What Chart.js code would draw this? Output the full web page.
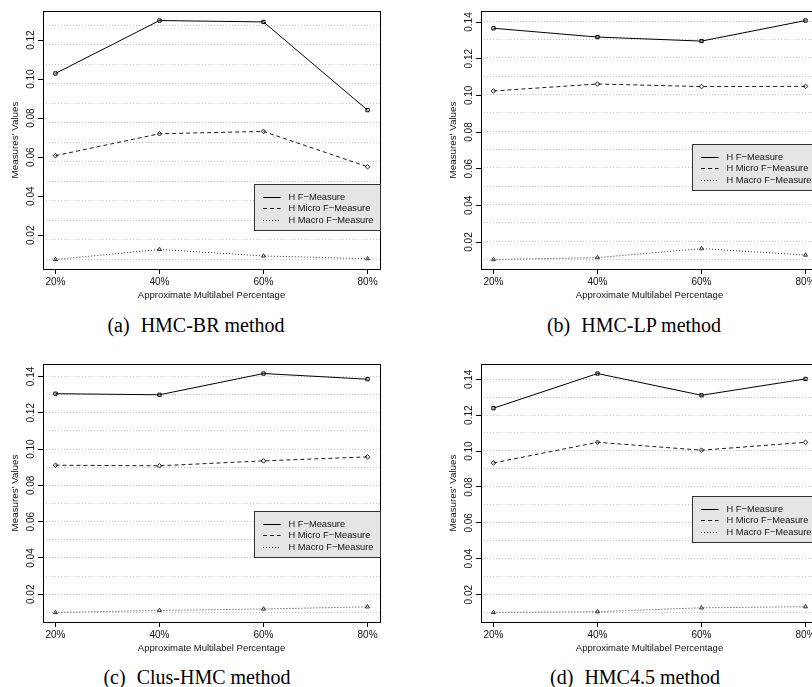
<!DOCTYPE html>
<html>
<head>
<meta charset="utf-8">
<title>Hierarchical F-Measures by multilabel percentage</title>
<script src="https://cdn.jsdelivr.net/npm/chart.js@4.4.0/dist/chart.umd.min.js"></script>
<style>
  html, body { margin: 0; padding: 0; background: #fff; }
  body { width: 812px; height: 687px; overflow: hidden; position: relative; }
  .panel { position: absolute; width: 400px; height: 310px; }
  .caption {
    position: absolute; width: 400px; text-align: center;
    font-family: "Liberation Serif", "Times New Roman", serif;
    font-size: 20px; line-height: 24px; color: #000; white-space: nowrap;
  }
  .caption .tag { margin-right: 6px; }
</style>
</head>
<body>
<div class="panel" style="left:0;top:0"><canvas id="chartA" width="400" height="310"></canvas></div>
<div class="panel" style="left:438px;top:0"><canvas id="chartB" width="400" height="310"></canvas></div>
<div class="panel" style="left:0;top:353px"><canvas id="chartC" width="400" height="310"></canvas></div>
<div class="panel" style="left:438px;top:353px"><canvas id="chartD" width="400" height="310"></canvas></div>

<div class="caption" style="left:-4px;top:313px"><span class="tag">(a)</span> HMC-BR method</div>
<div class="caption" style="left:434px;top:313px"><span class="tag">(b)</span> HMC-LP method</div>
<div class="caption" style="left:-3px;top:665px"><span class="tag">(c)</span> Clus-HMC method</div>
<div class="caption" style="left:435px;top:665px"><span class="tag">(d)</span> HMC4.5 method</div>

<script>
// Valeurs
const categories = ['20%', '40%', '60%', '80%'];
const seriesNames = ['H F\u2212Measure', 'H Micro F\u2212Measure', 'H Macro F\u2212Measure'];
const yTickValues = [0.02, 0.04, 0.06, 0.08, 0.10, 0.12, 0.14];
const xTitle = 'Approximate Multilabel Percentage';
const yTitle = "Measures' Values";

// (a) HMC-BR
const brF     = [0.1029, 0.1300, 0.1293, 0.0841];
const brMicro = [0.0608, 0.0720, 0.0732, 0.0551];
const brMacro = [0.0076, 0.0127, 0.0094, 0.0080];
// (b) HMC-LP
const lpF     = [0.1366, 0.1318, 0.1296, 0.1408];
const lpMicro = [0.1024, 0.1062, 0.1048, 0.1049];
const lpMacro = [0.0105, 0.0115, 0.0164, 0.0129];
// (c) Clus-HMC
const clusF     = [0.1305, 0.1299, 0.1416, 0.1385];
const clusMicro = [0.0911, 0.0908, 0.0935, 0.0957];
const clusMacro = [0.0100, 0.0111, 0.0119, 0.0131];
// (d) HMC4.5
const c45F     = [0.1239, 0.1432, 0.1311, 0.1402];
const c45Micro = [0.0934, 0.1049, 0.1005, 0.1049];
const c45Macro = [0.0101, 0.0105, 0.0127, 0.0133];

// Mise en page de chaque panneau (position de la légende en unités des axes)
const panels = [
  { id: 'chartA', series: [brF, brMicro, brMacro], legendTop: 0.0460 },
  { id: 'chartB', series: [lpF, lpMicro, lpMacro], legendTop: 0.0737 },
  { id: 'chartC', series: [clusF, clusMicro, clusMacro], legendTop: 0.0660 },
  { id: 'chartD', series: [c45F, c45Micro, c45Macro], legendTop: 0.0749 }
];
const legendLeftX = 1.905;

const seriesStyles = [
  { color: '#000000', dash: [], point: 'rect' },
  { color: '#1a1a1a', dash: [4, 3], point: 'rectRot' },
  { color: '#333333', dash: [1, 2], point: 'triangle' }
];

const sansFont = '"Liberation Sans", Arial, Helvetica, sans-serif';

/**
 * Cadre du graphe, étiquettes de l'axe Y tournées et légende grise
 */
const panelDecor = {
  id: 'panelDecor',
  afterDatasetsDraw(chart, args, opts) {
    const { ctx, chartArea: area, scales } = chart;
    const xs = scales.x, ys = scales.y;
    ctx.save();

    // étiquettes Y, parallèles à l'axe
    ctx.fillStyle = '#111';
    ctx.font = '10px ' + sansFont;
    ctx.textAlign = 'center';
    ctx.textBaseline = 'middle';
    ys.ticks.forEach(t => {
      ctx.save();
      ctx.translate(area.left - 11.5, ys.getPixelForValue(t.value));
      ctx.rotate(-Math.PI / 2);
      ctx.fillText(t.value.toFixed(2), 0, 0);
      ctx.restore();
    });

    // cadre
    ctx.strokeStyle = '#000';
    ctx.lineWidth = 1;
    ctx.strokeRect(Math.round(area.left) + 0.5, Math.round(area.top) + 0.5,
      Math.round(area.right - area.left), Math.round(area.bottom - area.top));

    // légende
    const lx = Math.round(xs.getPixelForValue(legendLeftX)) + 0.5;
    const ly = Math.round(ys.getPixelForValue(opts.legendTop)) + 0.5;
    const lw = Math.round(area.right) - lx + 0.5;
    const lh = 46;
    ctx.fillStyle = '#e5e5e5';
    ctx.fillRect(lx, ly, lw, lh);
    ctx.strokeStyle = '#333';
    ctx.strokeRect(lx, ly, lw, lh);

    ctx.font = '9.3px ' + sansFont;
    ctx.textAlign = 'left';
    chart.data.datasets.forEach((ds, i) => {
      const ry = Math.round(ly + 12 + i * 11.5) + 0.5;
      ctx.setLineDash(ds.borderDash);
      ctx.strokeStyle = ds.borderColor;
      ctx.lineWidth = 1;
      ctx.beginPath();
      ctx.moveTo(lx + 8.5, ry);
      ctx.lineTo(lx + 26, ry);
      ctx.stroke();
      ctx.setLineDash([]);
      ctx.fillStyle = '#111';
      ctx.fillText(ds.label, lx + 34, ry);
    });
    ctx.restore();
  }
};

function buildPanel(panel) {
  const all = panel.series.flat();
  const lo = Math.min(...all), hi = Math.max(...all);
  const ext = (hi - lo) * 0.04;
  const yMin = lo - ext, yMax = hi + ext;

  const datasets = panel.series.map((values, i) => ({
    label: seriesNames[i],
    data: values.map((v, k) => ({ x: k, y: v })),
    borderColor: seriesStyles[i].color,
    borderDash: seriesStyles[i].dash,
    borderWidth: 1,
    pointStyle: seriesStyles[i].point,
    pointRadius: 2.3,
    pointBorderWidth: 1,
    pointBorderColor: seriesStyles[i].color,
    pointBackgroundColor: 'rgba(255,255,255,0)',
    tension: 0,
    fill: false
  }));

  new Chart(document.getElementById(panel.id), {
    type: 'line',
    data: { datasets },
    options: {
      responsive: false,
      animation: false,
      events: [],
      layout: { padding: { top: 11, right: 20, left: 0, bottom: 7 } },
      plugins: {
        legend: { display: false },
        tooltip: { enabled: false },
        panelDecor: { legendTop: panel.legendTop }
      },
      scales: {
        x: {
          type: 'linear',
          min: -0.12,
          max: categories.length - 1 + 0.12,
          afterBuildTicks: s => { s.ticks = categories.map((c, k) => ({ value: k })); },
          afterFit: s => { s.height = 34; },
          ticks: {
            callback: v => categories[v],
            color: '#111',
            font: { family: sansFont, size: 10 },
            padding: 2,
            maxRotation: 0,
            autoSkip: false
          },
          grid: { drawOnChartArea: false, drawTicks: true, tickLength: 5, tickColor: '#000', color: '#000' },
          border: { display: false },
          title: {
            display: true, text: xTitle, color: '#111',
            font: { family: sansFont, size: 9.5 }, padding: { top: 0, bottom: 2 }
          }
        },
        y: {
          type: 'linear',
          min: yMin,
          max: yMax,
          afterBuildTicks: s => { s.ticks = yTickValues.filter(v => v >= yMin && v <= yMax).map(v => ({ value: v })); },
          afterFit: s => { s.width = 43; },
          ticks: { display: false },
          grid: { drawOnChartArea: false, drawTicks: true, tickLength: 5, tickColor: '#000', color: '#000' },
          border: { display: false },
          title: {
            display: true, text: yTitle, color: '#111',
            font: { family: sansFont, size: 9.8 }, padding: { top: 9.6, bottom: 0 }
          }
        },
        // lignes pointillées grises, une tous les 0.01 à partir du minimum
        yGrid: {
          type: 'linear',
          position: 'left',
          min: yMin,
          max: yMax,
          afterBuildTicks: s => {
            const t = [];
            for (let v = lo; v <= hi + 1e-9; v += 0.01) t.push({ value: v });
            s.ticks = t;
          },
          afterFit: s => { s.width = 0; },
          ticks: { display: false },
          grid: { drawOnChartArea: true, drawTicks: false, color: '#c4c4c4', lineWidth: 1 },
          border: { display: false, dash: [1, 2] }
        }
      }
    },
    plugins: [panelDecor]
  });
}

panels.forEach(buildPanel);
</script>
</body>
</html>
